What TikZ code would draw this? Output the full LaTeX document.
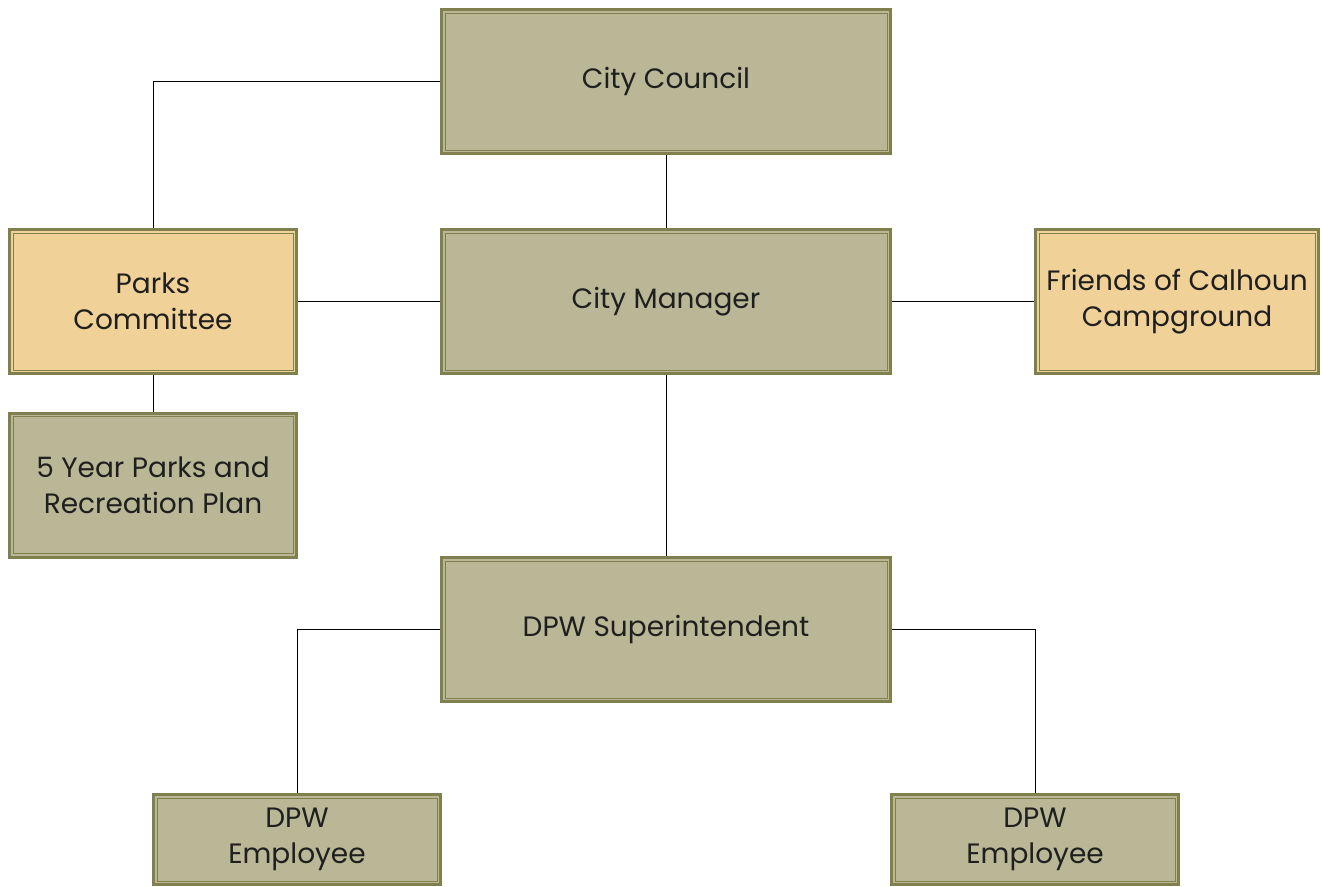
\documentclass[tikz,border=0pt]{standalone}
\usepackage{fontspec}
\setmainfont{Poppins}
\definecolor{khaki}{HTML}{B9B795}
\definecolor{sand}{HTML}{F0D197}
\definecolor{rim}{HTML}{80804F}
\tikzset{
  orgbox/.style={draw=rim, line width=3pt, fill=khaki, align=center, inner sep=0pt,
    font=\fontsize{28}{36}\selectfont, text=black!88,
    minimum width=#1, path picture={
      \draw[rim, line width=1pt]
        ([xshift=3.5pt,yshift=-3.5pt]path picture bounding box.north west) rectangle
        ([xshift=-3.5pt,yshift=3.5pt]path picture bounding box.south east);}},
  orgbox/.default=449pt,
  tall/.style={minimum height=144pt},
  short/.style={minimum height=90pt},
  peer/.style={fill=sand},
  link/.style={line width=0.8pt}
}
\begin{document}
\begin{tikzpicture}[x=1pt,y=-1pt]
\useasboundingbox (0,0) rectangle (1322,886);
\node[orgbox, tall] (council) at (666,81.5) {City Council};
\node[orgbox, tall] (manager) at (666,301.5) {City Manager};
\node[orgbox=287pt, tall, peer] (parks) at (153,301.5) {Parks\\Committee};
\node[orgbox=283pt, tall, peer] (friends) at (1177,301.5) {Friends of Calhoun\\Campground};
\node[orgbox=287pt, tall] (plan) at (153,485) {5 Year Parks and\\Recreation Plan};
\node[orgbox, tall] (super) at (666,629.5) {DPW Superintendent};
\node[orgbox=287pt, short] (emp1) at (297,839.5) {DPW\\Employee};
\node[orgbox=287pt, short] (emp2) at (1035,839.5) {DPW\\Employee};
\draw[link] (council.west) -| (parks.north);
\draw[link] (council) -- (manager);
\draw[link] (parks) -- (manager);
\draw[link] (manager) -- (friends);
\draw[link] (parks) -- (plan);
\draw[link] (manager) -- (super);
\draw[link] (super.west) -| (emp1.north);
\draw[link] (super.east) -| (emp2.north);
\end{tikzpicture}
\end{document}
